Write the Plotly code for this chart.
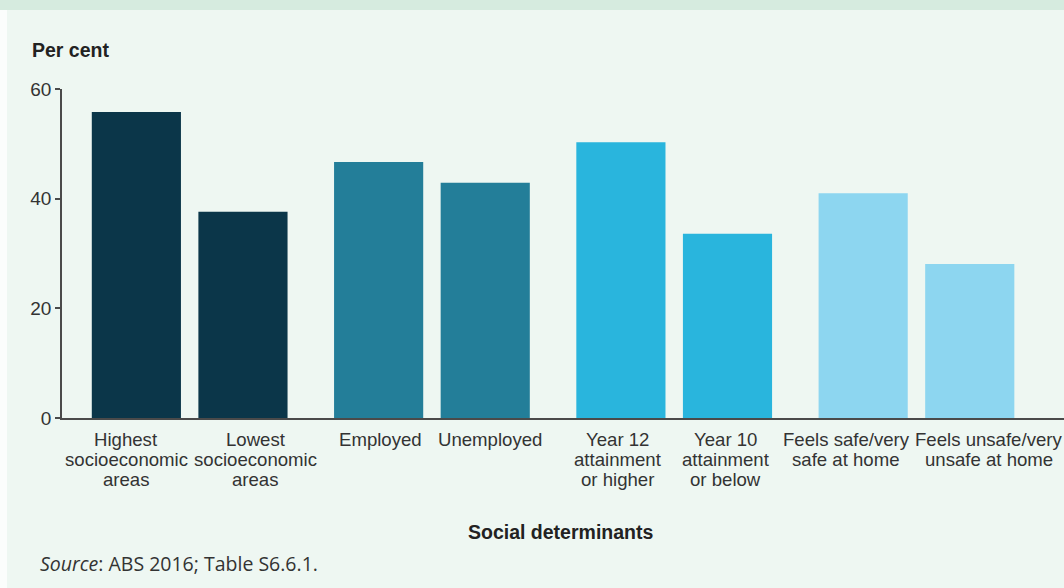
import plotly.graph_objects as go

categories = [
    "Highest<br>socioeconomic<br>areas",
    "Lowest<br>socioeconomic<br>areas",
    "Employed",
    "Unemployed",
    "Year 12<br>attainment<br>or higher",
    "Year 10<br>attainment<br>or below",
    "Feels safe/very<br>safe at home",
    "Feels unsafe/very<br>unsafe at home",
]
values = [55.8, 37.6, 46.7, 42.9, 50.3, 33.6, 41.0, 28.1]
group_index = [0, 0, 1, 1, 2, 2, 3, 3]
member_index = [0, 1, 0, 1, 0, 1, 0, 1]
group_colors = ["#0b3649", "#237e99", "#29b5dd", "#8dd6f0"]
y_ticks = [0, 20, 40, 60]

# horizontal nudges (px) of each category label, as placed in the original
label_nudge = [-10, 13, 2, 5, -3, -2, -17, 19]

W, H = 1064, 588
L, R, T, B = 62, 0, 89, 170
pw, ph = W - L - R, H - T - B

inner = 0.44
xpos = [g + (m - 0.5) * inner for g, m in zip(group_index, member_index)]
colors = [group_colors[g] for g in group_index]

fig = go.Figure()
fig.add_trace(go.Bar(
    x=xpos, y=values, width=0.368,
    marker=dict(color=colors, line=dict(width=0)),
    hoverinfo="skip",
))

font_fam = "Liberation Sans"

def px_x(p):
    return (p - L) / pw

def px_y(p):
    return (H - B - p) / ph

annotations = [
    dict(text="<b>Per cent</b>", xref="paper", yref="paper",
         x=px_x(30), y=px_y(50), xanchor="left", yanchor="middle",
         showarrow=False, font=dict(size=19.5, color="#222222", family=font_fam)),
    dict(text="<b>Social determinants</b>", xref="paper", yref="paper",
         x=px_x(560), y=px_y(532), xanchor="center", yanchor="middle",
         showarrow=False, font=dict(size=19.5, color="#222222", family=font_fam)),
    dict(text="<i>Source</i>: ABS 2016; Table S6.6.1.", xref="paper", yref="paper",
         x=px_x(38), y=px_y(563), xanchor="left", yanchor="middle",
         showarrow=False, font=dict(size=19.5, color="#333333", family="Open Sans")),
]

line_gap = 20.3
first_line = 21
for xp, label, nudge in zip(xpos, categories, label_nudge):
    for j, line in enumerate(label.split("<br>")):
        annotations.append(dict(
            text=line, xref="x", yref="y", x=xp, y=0,
            xanchor="center", yanchor="middle",
            xshift=nudge, yshift=-(first_line + j * line_gap),
            showarrow=False,
            font=dict(size=18.6, color="#333333", family=font_fam),
        ))

fig.update_layout(
    width=W, height=H,
    margin=dict(l=L, r=R, t=T, b=B),
    paper_bgcolor="#eef7f2",
    plot_bgcolor="#eef7f2",
    showlegend=False,
    font=dict(family=font_fam, color="#333333", size=18),
    xaxis=dict(
        range=[-0.527, 3.609],
        showticklabels=False,
        showline=True, linecolor="#4a4a4a", linewidth=1.5,
        ticks="", showgrid=False, zeroline=False,
    ),
    yaxis=dict(
        range=[0, 60],
        tickvals=y_ticks,
        showline=True, linecolor="#4a4a4a", linewidth=1.5,
        ticks="outside", ticklen=5, tickcolor="#4a4a4a", tickwidth=1.5,
        showgrid=False, zeroline=False,
        tickfont=dict(size=19, color="#333333", family=font_fam),
    ),
    shapes=[
        dict(type="rect", xref="paper", yref="paper",
             x0=px_x(0), x1=1.0, y0=px_y(10), y1=px_y(0),
             fillcolor="#d6ebdf", line=dict(width=0), layer="below"),
        dict(type="rect", xref="paper", yref="paper",
             x0=px_x(0), x1=px_x(7), y0=px_y(588), y1=px_y(10),
             fillcolor="#fbfdfc", line=dict(width=0), layer="below"),
    ],
    annotations=annotations,
)

fig.write_html(
    "out.html",
    config={"displayModeBar": False},
    post_script="document.body.style.margin='0';document.body.style.overflow='hidden';",
)
